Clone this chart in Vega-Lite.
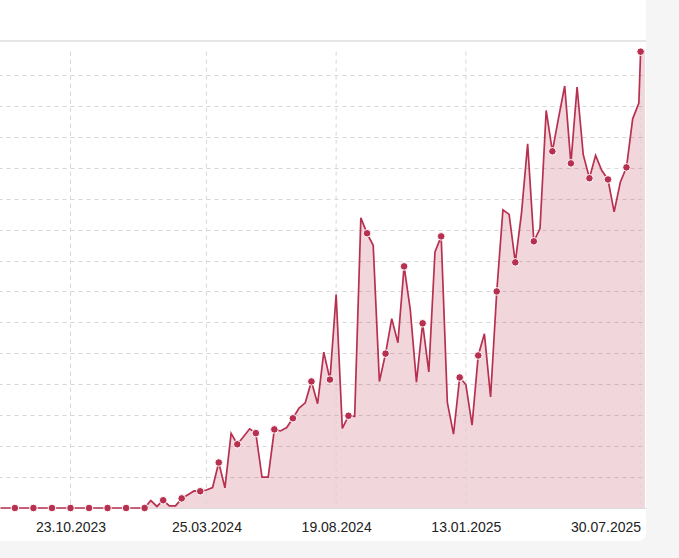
{
  "$schema": "https://vega.github.io/schema/vega-lite/v6.json",
  "width": 656,
  "height": 551,
  "autosize": "none",
  "padding": {"left": -10, "top": -10, "right": 33, "bottom": 17},
  "background": "#f5f5f5",
  "config": {
    "view": {"fill": "white", "stroke": null, "cornerRadius": 8},
    "font": "Liberation Sans"
  },
  "datasets": {
    "series": [
      {"date": "2023-07-24", "value": 0},
      {"date": "2023-07-31", "value": 0},
      {"date": "2023-08-07", "value": 0},
      {"date": "2023-08-14", "value": 0},
      {"date": "2023-08-21", "value": 0},
      {"date": "2023-08-28", "value": 0},
      {"date": "2023-09-04", "value": 0},
      {"date": "2023-09-11", "value": 0},
      {"date": "2023-09-18", "value": 0},
      {"date": "2023-09-25", "value": 0},
      {"date": "2023-10-02", "value": 0},
      {"date": "2023-10-09", "value": 0},
      {"date": "2023-10-16", "value": 0},
      {"date": "2023-10-23", "value": 0},
      {"date": "2023-10-30", "value": 0},
      {"date": "2023-11-06", "value": 0},
      {"date": "2023-11-13", "value": 0},
      {"date": "2023-11-20", "value": 0},
      {"date": "2023-11-27", "value": 0},
      {"date": "2023-12-04", "value": 0},
      {"date": "2023-12-11", "value": 0},
      {"date": "2023-12-18", "value": 0},
      {"date": "2023-12-25", "value": 0},
      {"date": "2024-01-01", "value": 0},
      {"date": "2024-01-08", "value": 0},
      {"date": "2024-01-15", "value": 0},
      {"date": "2024-01-22", "value": 2.4},
      {"date": "2024-01-29", "value": 0.5},
      {"date": "2024-02-05", "value": 2.5},
      {"date": "2024-02-12", "value": 0.7},
      {"date": "2024-02-19", "value": 0.7},
      {"date": "2024-02-26", "value": 3.1},
      {"date": "2024-03-04", "value": 4.3},
      {"date": "2024-03-11", "value": 5.5},
      {"date": "2024-03-18", "value": 5.4},
      {"date": "2024-03-25", "value": 5.8},
      {"date": "2024-04-01", "value": 6.6},
      {"date": "2024-04-08", "value": 14.7},
      {"date": "2024-04-15", "value": 6.5},
      {"date": "2024-04-22", "value": 24.1},
      {"date": "2024-04-29", "value": 20.6},
      {"date": "2024-05-06", "value": 23.0},
      {"date": "2024-05-13", "value": 25.6},
      {"date": "2024-05-20", "value": 24.2},
      {"date": "2024-05-27", "value": 10.0},
      {"date": "2024-06-03", "value": 10.0},
      {"date": "2024-06-10", "value": 25.4},
      {"date": "2024-06-17", "value": 24.9},
      {"date": "2024-06-24", "value": 26.0},
      {"date": "2024-07-01", "value": 29.0},
      {"date": "2024-07-08", "value": 32.3},
      {"date": "2024-07-15", "value": 34.0},
      {"date": "2024-07-22", "value": 40.9},
      {"date": "2024-07-29", "value": 33.7},
      {"date": "2024-08-05", "value": 50.4},
      {"date": "2024-08-12", "value": 41.5},
      {"date": "2024-08-19", "value": 69.0},
      {"date": "2024-08-26", "value": 25.7},
      {"date": "2024-09-02", "value": 29.8},
      {"date": "2024-09-09", "value": 29.6},
      {"date": "2024-09-16", "value": 93.8},
      {"date": "2024-09-23", "value": 88.8},
      {"date": "2024-09-30", "value": 84.9},
      {"date": "2024-10-07", "value": 40.9},
      {"date": "2024-10-14", "value": 49.9},
      {"date": "2024-10-21", "value": 61.2},
      {"date": "2024-10-28", "value": 53.4},
      {"date": "2024-11-04", "value": 78.1},
      {"date": "2024-11-11", "value": 64.1},
      {"date": "2024-11-18", "value": 40.7},
      {"date": "2024-11-25", "value": 59.7},
      {"date": "2024-12-02", "value": 44.0},
      {"date": "2024-12-09", "value": 82.8},
      {"date": "2024-12-16", "value": 87.8},
      {"date": "2024-12-23", "value": 34.1},
      {"date": "2024-12-30", "value": 23.9},
      {"date": "2025-01-06", "value": 42.2},
      {"date": "2025-01-13", "value": 39.9},
      {"date": "2025-01-20", "value": 26.8},
      {"date": "2025-01-27", "value": 49.3},
      {"date": "2025-02-03", "value": 56.3},
      {"date": "2025-02-10", "value": 35.9},
      {"date": "2025-02-17", "value": 70.0},
      {"date": "2025-02-24", "value": 96.4},
      {"date": "2025-03-03", "value": 94.9},
      {"date": "2025-03-10", "value": 79.4},
      {"date": "2025-03-17", "value": 95.2},
      {"date": "2025-03-24", "value": 117.7},
      {"date": "2025-03-31", "value": 86.2},
      {"date": "2025-04-07", "value": 90.3},
      {"date": "2025-04-14", "value": 128.5},
      {"date": "2025-04-21", "value": 115.3},
      {"date": "2025-04-28", "value": 126.1},
      {"date": "2025-05-05", "value": 136.4},
      {"date": "2025-05-12", "value": 111.4},
      {"date": "2025-05-19", "value": 136.1},
      {"date": "2025-05-26", "value": 114.2},
      {"date": "2025-06-02", "value": 106.6},
      {"date": "2025-06-09", "value": 114.0},
      {"date": "2025-06-16", "value": 109.1},
      {"date": "2025-06-23", "value": 106.2},
      {"date": "2025-06-30", "value": 95.7},
      {"date": "2025-07-07", "value": 105.3},
      {"date": "2025-07-14", "value": 110.1},
      {"date": "2025-07-21", "value": 125.8},
      {"date": "2025-07-28", "value": 130.9},
      {"date": "2025-07-30", "value": 147.5},
      {"date": "2025-08-04", "value": 147.5}
    ],
    "ticks": [
      {"date": "2023-10-23"},
      {"date": "2024-03-25"},
      {"date": "2024-08-19"},
      {"date": "2025-01-13"},
      {"date": "2025-07-30"}
    ]
  },
  "layer": [
    {
      "data": {"name": "series"},
      "mark": {"type": "area", "color": "#b8304f", "opacity": 0.2, "clip": true, "interpolate": "linear"},
      "encoding": {
        "x": {
          "field": "date",
          "type": "temporal",
          "scale": {"type": "utc", "domain": ["2023-07-23T19:00:00Z", "2025-08-05T02:24:00Z"], "nice": false},
          "axis": {
            "orient": "bottom",
            "offset": -33,
            "values": [
              {"year": 2023, "month": 10, "date": 23, "utc": true},
              {"year": 2024, "month": 3, "date": 25, "utc": true},
              {"year": 2024, "month": 8, "date": 19, "utc": true},
              {"year": 2025, "month": 1, "date": 13, "utc": true},
              {"year": 2025, "month": 7, "date": 30, "utc": true}
            ],
            "format": "%d.%m.%Y",
            "title": null,
            "grid": false,
            "ticks": false,
            "tickSize": 0,
            "domain": true,
            "domainColor": "#dcdcdc",
            "domainWidth": 1,
            "labelPadding": 12,
            "labelFontSize": 14,
            "labelFont": "Liberation Sans",
            "labelColor": "#222222",
            "labelFlush": false,
            "labelOverlap": false,
            "labelBound": false,
            "labelAlign": {"condition": {"test": "datum.value > utc(2025, 5, 1)", "value": "right"}, "value": "center"}
          }
        },
        "y": {
          "field": "value",
          "type": "quantitative",
          "scale": {"domain": [-10.67, 167.44], "nice": false, "zero": false},
          "axis": {
            "values": [10, 20, 30, 40, 50, 60, 70, 80, 90, 100, 110, 120, 130, 140],
            "grid": true,
            "gridDash": [4, 4],
            "gridColor": "#d6d6d6",
            "gridWidth": 1,
            "labels": false,
            "ticks": false,
            "domain": false,
            "title": null
          }
        },
        "y2": {"datum": 0}
      }
    },
    {
      "data": {"name": "series"},
      "mark": {"type": "rule", "color": "#e6e6e6", "strokeWidth": 1.2},
      "encoding": {"y": {"datum": 151}}
    },
    {
      "data": {"name": "ticks"},
      "mark": {"type": "rule", "color": "#d6d6d6", "strokeDash": [4, 4], "strokeWidth": 1},
      "encoding": {
        "x": {"field": "date", "type": "temporal"},
        "y": {"datum": 147.5},
        "y2": {"datum": 0}
      }
    },
    {
      "data": {"name": "series"},
      "mark": {"type": "line", "color": "#b8304f", "strokeWidth": 1.7, "clip": true},
      "encoding": {
        "x": {"field": "date", "type": "temporal"},
        "y": {"field": "value", "type": "quantitative"}
      }
    },
    {
      "data": {"name": "series"},
      "transform": [
        {"window": [{"op": "row_number", "as": "rn"}]},
        {"filter": "datum.rn % 3 == 2"}
      ],
      "mark": {"type": "point", "filled": true, "color": "#b8304f", "stroke": "white", "strokeWidth": 1, "size": 58, "opacity": 1, "clip": true},
      "encoding": {
        "x": {"field": "date", "type": "temporal"},
        "y": {"field": "value", "type": "quantitative"}
      }
    }
  ]
}
